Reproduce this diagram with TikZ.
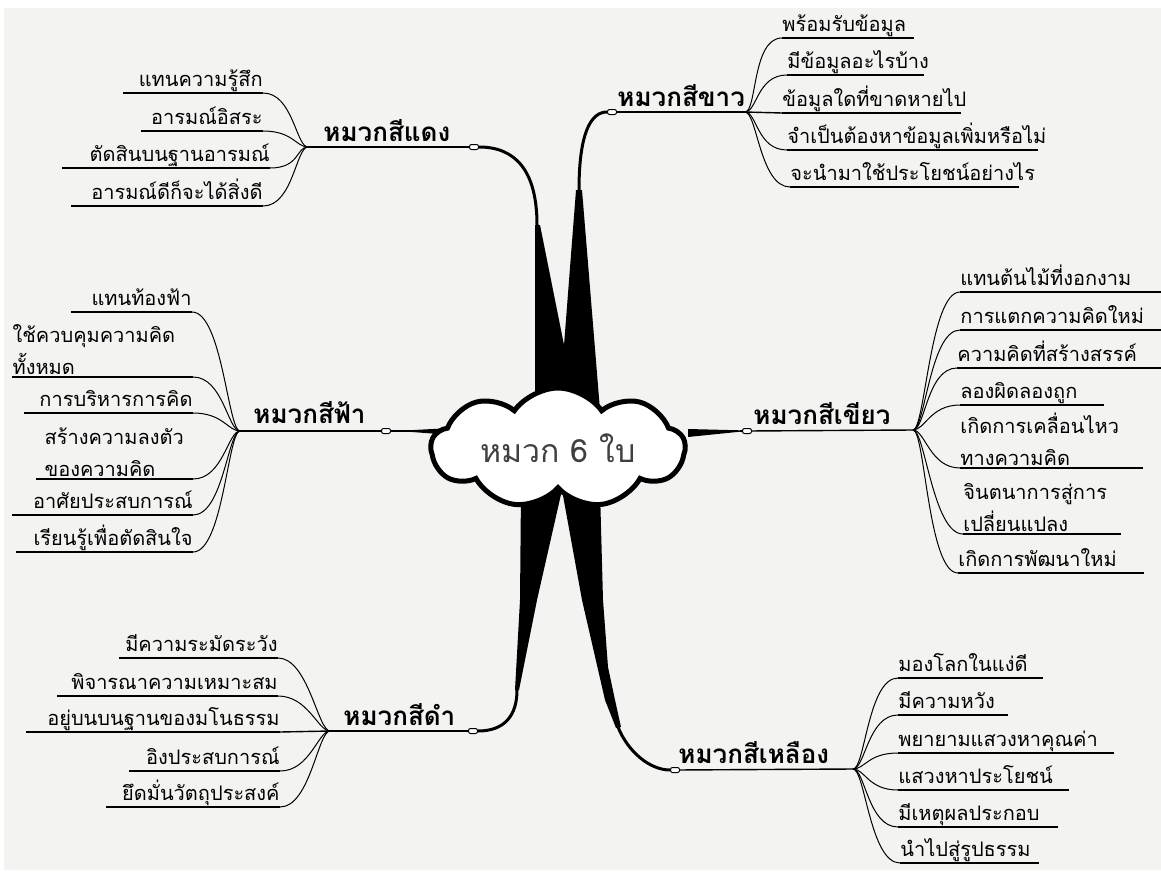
\documentclass[tikz,border=0pt]{standalone}
\usepackage{fontspec}
\newfontfamily\thai[Script=Thai]{Loma}
\usetikzlibrary{shapes.symbols}
\definecolor{paper}{HTML}{F3F4F2}

\begin{document}
\begin{tikzpicture}[x=0.5pt,y=-0.5pt,font=\thai,
  leaf/.style={font=\thai\fontsize{10}{16}\selectfont,inner xsep=0pt,inner ysep=1pt,
    append after command={(\tikzlastnode.south west) edge[draw,line width=0.7pt] (\tikzlastnode.south east)}},
  leafl/.style={leaf,text depth=2pt,anchor=south east,text width=#1,align=right},
  leafr/.style={leaf,text depth=2pt,anchor=south west,text width=#1,align=left},
  twol/.style={leaf,anchor=south east,text width=#1,align=left},
  twor/.style={leaf,anchor=south west,text width=#1,align=left},
  hat/.style={font=\thai\bfseries\fontsize{13}{16}\selectfont,anchor=base west,inner sep=0pt},
  knob/.style={draw,fill=white,rounded corners=1pt,line width=0.5pt,minimum width=4.5pt,minimum height=2.5pt,inner sep=0pt},
  rule/.style={line width=0.7pt},
  twig/.style={line width=0.5pt},
  trunk/.style={line width=1.5pt},
  tl/.style={to path={.. controls +(-12,0) and +(30,0) .. (\tikztotarget)}},
  tr/.style={to path={.. controls +(12,0) and +(-30,0) .. (\tikztotarget)}}]
\useasboundingbox (0,0) rectangle (1161,878);
\fill[paper] (4,8) rectangle (1161,870);

\coordinate (f_red)    at (308,147);
\coordinate (f_white)  at (745,112);
\coordinate (f_sky)    at (240,431);
\coordinate (f_green)  at (913,430);
\coordinate (f_black)  at (330,731);
\coordinate (f_yellow) at (853,769);
\coordinate (n_red)    at (537,225);
\coordinate (n_white)  at (579,190);
\coordinate (n_sky)    at (410,431);
\coordinate (n_green)  at (740,431);
\coordinate (n_black)  at (517,690);
\coordinate (n_yellow) at (618,727);

\node[knob] (k_red)    at (474,147) {};
\node[knob] (k_white)  at (612,112) {};
\node[knob] (k_sky)    at (386,431) {};
\node[knob] (k_green)  at (747,431) {};
\node[knob] (k_black)  at (473,731) {};
\node[knob] (k_yellow) at (675,770) {};

\node[hat] (h_red)    at (323,141) {หมวกสีแดง};
\node[hat] (h_white)  at (617,106) {หมวกสีขาว};
\node[hat] (h_sky)    at (253,423) {หมวกสีฟ้า};
\node[hat] (h_green)  at (753,424) {หมวกสีเขียว};
\node[hat] (h_black)  at (343,725) {หมวกสีดำ};
\node[hat] (h_yellow) at (678,763) {หมวกสีเหลือง};

\node[leafl=69.5pt]  (r_1) at (263,93)  {แทนความรู้สึก};
\node[leafl=60.5pt]  (r_2) at (263,131) {อารมณ์อิสระ};
\node[leafl=103.5pt] (r_3) at (270,168) {ตัดสินบนฐานอารมณ์};
\node[leafl=95.5pt]  (r_4) at (263,206) {อารมณ์ดีก็จะได้สิ่งดี};

\node[leafr=65.5pt]  (w_1) at (782,38)  {พร้อมรับข้อมูล};
\node[leafr=68pt]    (w_2) at (787,75)  {มีข้อมูลอะไรบ้าง};
\node[leafr=89pt]    (w_3) at (782,113) {ข้อมูลใดที่ขาดหายไป};
\node[leafr=125pt]   (w_4) at (787,150) {จำเป็นต้องหาข้อมูลเพิ่มหรือไม่};
\node[leafr=114pt]   (w_5) at (790,187) {จะนำมาใช้ประโยชน์อย่างไร};

\node[leafl=60pt]    (s_1) at (192,312) {แทนท้องฟ้า};
\node[twol=90pt]     (s_2) at (193,377) {ใช้ควบคุมความคิด\\ทั้งหมด};
\node[leafl=84pt]    (s_3) at (193,413) {การบริหารการคิด};
\node[twol=78pt]     (s_4) at (193,479) {\hspace*{4pt}สร้างความลงตัว\\\hspace*{4pt}ของความคิด};
\node[leafl=90pt]    (s_5) at (193,515) {อาศัยประสบการณ์};
\node[leafl=88pt]    (s_6) at (193,552) {เรียนรู้เพื่อตัดสินใจ};

\node[leafr=100.5pt] (g_1) at (960,292) {แทนต้นไม้ที่งอกงาม};
\node[leafr=100.5pt] (g_2) at (960,330) {การแตกความคิดใหม่};
\node[leafr=101.5pt] (g_3) at (957,368) {ความคิดที่สร้างสรรค์};
\node[leafr=71.5pt]  (g_4) at (960,405) {ลองผิดลองถูก};
\node[twor=91pt]     (g_5) at (960,468) {เกิดการเคลื่อนไหว\\ทางความคิด};
\node[twor=78.5pt]   (g_6) at (963,534) {จินตนาการสู่การ\\เปลี่ยนแปลง};
\node[leafr=92.5pt]  (g_7) at (958,573) {เกิดการพัฒนาใหม่};

\node[leafl=79pt]    (b_1) at (278,658) {มีความระมัดระวัง};
\node[leafl=110pt]   (b_2) at (278,696) {พิจารณาความเหมาะสม};
\node[leafl=126.5pt] (b_3) at (280,732) {อยู่บนบนฐานของมโนธรรม};
\node[leafl=75pt]    (b_4) at (280,771) {อิงประสบการณ์};
\node[leafl=86.5pt]  (b_5) at (280,807) {ยึดมั่นวัตถุประสงค์};

\node[leafr=72pt]    (y_1) at (898,678) {มองโลกในแง่ดี};
\node[leafr=54.5pt]  (y_2) at (898,715) {มีความหวัง};
\node[leafr=107.5pt] (y_3) at (898,753) {พยายามแสวงหาคุณค่า};
\node[leafr=85pt]    (y_4) at (898,790) {แสวงหาประโยชน์};
\node[leafr=79.5pt]  (y_5) at (898,827) {มีเหตุผลประกอบ};
\node[leafr=69pt]    (y_6) at (900,863) {นำไปสู่รูปธรรม};

\draw[rule] (f_red) -- (k_red);
\draw[rule] (f_white) -- (k_white);
\draw[rule] (f_sky) -- (k_sky);
\draw[rule] (f_green) -- (k_green);
\draw[rule] (f_black) -- (k_black);
\draw[rule] (f_yellow) -- (k_yellow);

\path[twig] (f_red) edge[tl] (r_1.south east)
                    edge[tl] (r_2.south east)
                    edge[tl] (r_3.south east)
                    edge[tl] (r_4.south east);
\path[twig] (f_white) edge[tr] (w_1.south west)
                      edge[tr] (w_2.south west)
                      edge[rule] (w_3.south west)
                      edge[tr] (w_4.south west)
                      edge[tr] (w_5.south west);
\path[twig] (f_sky) edge[tl] (s_1.south east)
                    edge[tl] (s_2.south east)
                    edge[tl] (s_3.south east)
                    edge[tl] (s_4.south east)
                    edge[tl] (s_5.south east)
                    edge[tl] (s_6.south east);
\path[twig] (f_green) edge[tr] (g_1.south west)
                      edge[tr] (g_2.south west)
                      edge[tr] (g_3.south west)
                      edge[tr] (g_4.south west)
                      edge[tr] (g_5.south west)
                      edge[tr] (g_6.south west)
                      edge[tr] (g_7.south west);
\path[twig] (f_black) edge[tl] (b_1.south east)
                      edge[tl] (b_2.south east)
                      edge[rule] (b_3.south east)
                      edge[tl] (b_4.south east)
                      edge[tl] (b_5.south east);
\path[twig] (f_yellow) edge[tr] (y_1.south west)
                       edge[tr] (y_2.south west)
                       edge[tr] (y_3.south west)
                       edge[tr] (y_4.south west)
                       edge[tr] (y_5.south west)
                       edge[tr] (y_6.south west);

\draw[trunk] (k_red) .. controls (515,147) and (537,170) .. (n_red);
\draw[trunk] (k_white) .. controls (590,112) and (579,135) .. (n_white);
\draw[rule] (k_sky) -- (n_sky);
\draw[rule] (n_green) -- (k_green);
\draw[trunk] (k_black) .. controls (505,731) and (517,715) .. (n_black);
\draw[trunk] (n_yellow) .. controls (628,752) and (650,770) .. (k_yellow);
\fill (535,225) -- (535,410) -- (577,410) -- (540,225) -- cycle;
\fill (576,190) -- (559,410) -- (600,410) -- (582,190) -- cycle;
\fill (408,430.3) -- (452,428) -- (452,435) -- (408,431.7) -- cycle;
\fill (740,430.3) -- (688,429) -- (688,437) -- (740,431.7) -- cycle;
\fill (515,690) -- (520,600) -- (521,490) -- (562,490) -- (537,600) -- (527,650) -- (519,690) -- cycle;
\fill (562,490) -- (582,600) -- (605,700) -- (616,728) -- (621,727) -- (615,700) -- (608,667) -- (603,600) -- (600,490) -- cycle;

\node[cloud,cloud puffs=9,cloud puff arc=110,cloud ignores aspect,draw,line width=2.5pt,fill=white,
      minimum width=127pt,minimum height=60pt,inner sep=0pt,
      font=\thai\fontsize{16}{18}\selectfont,text=black!75] (six) at (558,448) {หมวก 6 ใบ};
\end{tikzpicture}
\end{document}
